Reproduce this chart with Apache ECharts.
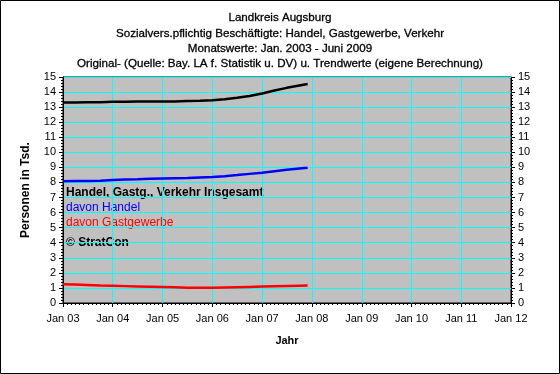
<!DOCTYPE html>
<html><head><meta charset="utf-8">
<script src="https://cdn.jsdelivr.net/npm/echarts@6/dist/echarts.min.js"></script>
<style>html,body{margin:0;padding:0;background:#fff}#c{width:560px;height:374px}</style>
</head><body><div id="c"></div>
<script>
var titleLines = ['Landkreis Augsburg','Sozialvers.pflichtig Beschäftigte: Handel, Gastgewerbe, Verkehr','Monatswerte: Jan. 2003 - Juni 2009','Original- (Quelle: Bay. LA f. Statistik u. DV) u. Trendwerte (eigene Berechnung)'];
var dates = ['2003-01-01','2003-04-01','2003-07-01','2003-10-01',
             '2004-01-01','2004-04-01','2004-07-01','2004-10-01',
             '2005-01-01','2005-04-01','2005-07-01','2005-10-01',
             '2006-01-01','2006-04-01','2006-07-01','2006-10-01',
             '2007-01-01','2007-04-01','2007-07-01','2007-10-01','2007-12-01'];
var insgesamt = [13.30,13.31,13.32,13.33, 13.35,13.36,13.37,13.37, 13.37,13.38,13.40,13.42, 13.46,13.53,13.62,13.74, 13.90,14.10,14.28,14.43,14.53];
var handel    = [8.08,8.09,8.10,8.12, 8.16,8.19,8.21,8.24, 8.26,8.28,8.30,8.33, 8.36,8.42,8.49,8.57, 8.65,8.75,8.85,8.93,8.98];
var gast      = [1.24,1.22,1.19,1.16, 1.14,1.12,1.10,1.08, 1.06,1.04,1.02,1.01, 1.01,1.03,1.05,1.07, 1.09,1.11,1.13,1.15,1.16];
var xMin = '2003-01-01', xMax = '2012-01-01';
var yMin = 0, yMax = 15, yInterval = 1;
var legendTexts = ['Handel, Gastg., Verkehr Insgesamt','davon Handel','davon Gastgewerbe','© StratCon'];
var seriesNames = ['Handel, Gastg., Verkehr Insgesamt','davon Handel','davon Gastgewerbe'];

function pairs(v){ return dates.map(function(d,i){ return [d, v[i]]; }); }
var FONT = 'Liberation Sans';
var chart = echarts.init(document.getElementById('c'), null, {renderer:'canvas'});
var yAxisCommon = {
  type:'value', min:yMin, max:yMax, interval:yInterval,
  axisLine:{show:true, lineStyle:{color:'#000'}},
  axisTick:{show:true, length:4, lineStyle:{color:'#000'}},
  minorTick:{show:true, splitNumber:5, length:2, lineStyle:{color:'#000'}},
  axisLabel:{color:'#000', fontFamily:FONT, fontSize:11, margin:7}
};
chart.setOption({
  animation:false,
  backgroundColor:'#fff',
  title: titleLines.map(function(t,i){
    return {text:t, left:'center', top:7 + i*15.3, textStyle:{fontFamily:FONT, fontSize:11.6, fontWeight:'normal', color:'#000', textBorderColor:'#000', textBorderWidth:0.3}};
  }),
  grid:{left:63, right:49, top:77, bottom:71, show:true, backgroundColor:'#C0C0C0', borderColor:'#000', borderWidth:1},
  xAxis:{
    type:'time', min:xMin, max:xMax,
    minInterval:365*86400000, maxInterval:366*86400000,
    name:'Jahr', nameLocation:'middle', nameGap:32,
    nameTextStyle:{fontFamily:FONT, fontSize:11, fontWeight:'bold', color:'#000'},
    axisLine:{lineStyle:{color:'#000'}},
    axisTick:{show:true, length:4, lineStyle:{color:'#000'}},
    minorTick:{show:true, splitNumber:12, length:2, lineStyle:{color:'#000'}},
    splitLine:{show:true, lineStyle:{color:'#00FFFF', width:1}},
    axisLabel:{color:'#000', fontFamily:FONT, fontSize:11, margin:10, hideOverlap:false, showMaxLabel:true, showMinLabel:true,
      formatter:function(v){ var d=new Date(v); return 'Jan ' + String(d.getFullYear()).slice(2); }}
  },
  yAxis:[
    Object.assign({}, yAxisCommon, {position:'left',
      name:'Personen in Tsd.', nameLocation:'middle', nameGap:31, nameRotate:90,
      nameTextStyle:{fontFamily:FONT, fontSize:12, fontWeight:'bold', color:'#000'},
      splitLine:{show:true, lineStyle:{color:'#00FFFF', width:1}}}),
    Object.assign({}, yAxisCommon, {position:'right', splitLine:{show:false}})
  ],
  series:[
    {name:seriesNames[0], type:'line', data:pairs(insgesamt), showSymbol:false, lineStyle:{color:'#000', width:2.5}},
    {name:seriesNames[1], type:'line', data:pairs(handel), showSymbol:false, lineStyle:{color:'#0000FF', width:2.5}},
    {name:seriesNames[2], type:'line', data:pairs(gast), showSymbol:false, lineStyle:{color:'#FF0000', width:2.5}}
  ],
  graphic:[
    {type:'rect', shape:{x:0.5,y:0.5,width:559,height:373}, style:{fill:null, stroke:'#000', lineWidth:1}, silent:true},
    {type:'text', left:66, top:187, style:{text:legendTexts[0], fill:'#000', font:'bold 12px "Liberation Sans"'}},
    {type:'text', left:66, top:202, style:{text:legendTexts[1], fill:'#0000FF', font:'12px "Liberation Sans"'}},
    {type:'text', left:66, top:217, style:{text:legendTexts[2], fill:'#FF0000', font:'12px "Liberation Sans"'}},
    {type:'text', left:66, top:237, style:{text:legendTexts[3], fill:'#000', font:'bold 12px "Liberation Sans"'}}
  ]
});
</script></body></html>
